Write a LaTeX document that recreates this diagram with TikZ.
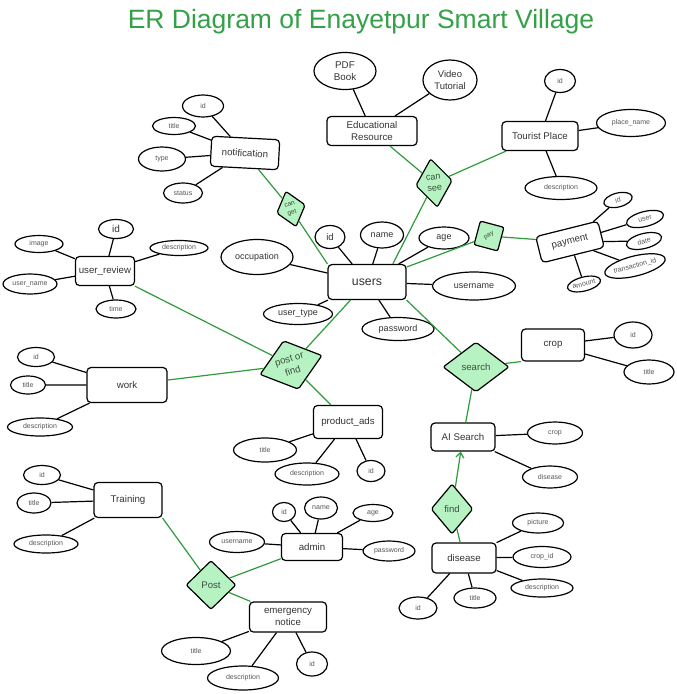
\documentclass[tikz,border=0pt]{standalone}
\usepackage{fontspec}
\setmainfont{Liberation Sans}
\usetikzlibrary{arrows.meta,calc,positioning,shapes.geometric}
\definecolor{linegreen}{HTML}{2E9B3A}
\definecolor{relfill}{HTML}{B6F2C2}
\definecolor{titlegreen}{HTML}{34A148}
\definecolor{txtgray}{HTML}{333333}
\definecolor{attrgray}{HTML}{555555}
\definecolor{reltext}{HTML}{3B4F3E}

\begin{document}
\begin{tikzpicture}[>=Latex,x=1pt,y=-1pt,
  attr/.style 2 args={draw,ellipse,line width=1.2pt,minimum width=#1,minimum height=#2,inner sep=0pt,text=attrgray,font=\fontsize{7}{8}\selectfont},
  bigattr/.style 2 args={attr={#1}{#2},text=txtgray,font=\fontsize{9}{10.5}\selectfont},
  relbox/.style 2 args={draw,diamond,fill=relfill,line width=1.2pt,rounded corners=2pt,minimum width=#1,minimum height=#2,inner sep=0pt,align=center,text=reltext,font=\fontsize{9.6}{11.5}\selectfont}]
  \tikzstyle{entity}=[draw,rounded corners=4pt,line width=1.2pt,align=center,inner sep=1pt,text=txtgray,font=\fontsize{9.7}{11.5}\selectfont]
  \tikzstyle{attrline}=[line width=1.2pt]
  \tikzstyle{relline}=[draw=linegreen,line width=1.2pt]
  \useasboundingbox (0,0) rectangle (677,694);

  \node[text=titlegreen,font=\fontsize{26.5}{30}\selectfont] (title) at (361,22) {ER Diagram of Enayetpur Smart Village};

  \node[entity,minimum width=78,minimum height=35,font=\fontsize{12.3}{14}\selectfont] (users) at (367,282) {users};
  \node[entity,minimum width=68,minimum height=30,rotate=-3] (notif) at (245,153) {notification};
  \node[entity,minimum width=90,minimum height=29] (eduRes) at (372,131) {Educational\\Resource};
  \node[entity,minimum width=76,minimum height=29] (tourist) at (540,136) {Tourist Place};
  \node[entity,minimum width=59,minimum height=29] (review) at (105,271) {user\_review};
  \node[entity,minimum width=64,minimum height=27,rotate=14] (payment) at (570,242) {payment};
  \node[entity,minimum width=80,minimum height=35] (work) at (127,385) {work};
  \node[entity,minimum width=69,minimum height=33] (productAds) at (348,422) {product\_ads};
  \node[entity,minimum width=63,minimum height=32] (crop) at (553,345) {crop};
  \node[entity,minimum width=64,minimum height=28] (aiSearch) at (463,437) {AI Search};
  \node[entity,minimum width=64,minimum height=30] (disease) at (464,558) {disease};
  \node[entity,minimum width=68,minimum height=35] (training) at (128,500) {Training};
  \node[entity,minimum width=61,minimum height=27] (admin) at (312,547) {admin};
  \node[entity,minimum width=77,minimum height=30] (emergency) at (288,617) {emergency\\notice};

  \node[relbox={30}{37},rotate=16,font=\fontsize{6.5}{8.2}\selectfont] (canGet) at (291,209) {can\\get};
  \node[relbox={37}{49},rotate=8,font=\fontsize{9}{11}\selectfont] (canSee) at (434,183) {can\\see};
  \node[relbox={35}{35},rotate=30,font=\fontsize{6.5}{7}\selectfont] (pay) at (489,236) {pay};
  \node[relbox={65}{51},rotate=17,aspect=1.3,font=\fontsize{9.6}{12.5}\selectfont] (postFind) at (291,365) {post or\\find};
  \node[relbox={66}{50}] (search) at (476,367) {search};
  \node[relbox={42}{50}] (find) at (452,509) {find};
  \node[relbox={50}{49}] (post) at (211,585) {Post};

  \node[bigattr={30}{23},font=\fontsize{9.5}{11}\selectfont] (uid) at ($(users)+(-37,-45)$) {id};
  \node[bigattr={43}{26}] (uname) at ($(users)+(15,-47)$) {name};
  \node[bigattr={50}{22}] (uage) at ($(users)+(77,-44)$) {age};
  \node[bigattr={83}{28}] (uuser) at ($(users)+(107,4)$) {username};
  \node[bigattr={72}{23}] (upass) at ($(users)+(31,47)$) {password};
  \node[bigattr={72}{35}] (uocc) at ($(users)+(-110,-25)$) {occupation};
  \node[bigattr={69}{21}] (utype) at ($(users)+(-69,32)$) {user\_type};

  \node[attr={41}{22}] (nid) at ($(notif)+(-42,-47)$) {id};
  \node[attr={43}{17}] (ntitle) at ($(notif)+(-71,-27)$) {title};
  \node[attr={47}{24}] (ntype) at ($(notif)+(-83,6)$) {type};
  \node[attr={39}{20}] (nstatus) at ($(notif)+(-62,40)$) {status};

  \node[bigattr={62}{37},font=\fontsize{9.8}{11.5}\selectfont,align=center] (pdf) at ($(eduRes)+(-27,-60)$) {PDF\\Book};
  \node[bigattr={54}{40},font=\fontsize{9.5}{11.5}\selectfont,align=center] (video) at ($(eduRes)+(78,-51)$) {Video\\Tutorial};

  \node[attr={31}{23}] (tid) at ($(tourist)+(20,-55)$) {id};
  \node[attr={69}{27}] (tplace) at ($(tourist)+(91,-13)$) {place\_name};
  \node[attr={72}{23}] (tdesc) at ($(tourist)+(21,52)$) {description};

  \node[bigattr={35}{19},font=\fontsize{10}{11}\selectfont] (rid) at ($(review)+(11,-42)$) {id};
  \node[attr={48}{17}] (rimage) at ($(review)+(-66,-27)$) {image};
  \node[attr={54}{20}] (rname) at ($(review)+(-75,13)$) {user\_name};
  \node[attr={40}{18}] (rtime) at ($(review)+(11,38)$) {time};
  \node[attr={58}{15}] (rdesc) at ($(review)+(74,-23)$) {description};

  \node[attr={29}{14},rotate=14] (pid) at ($(payment)+(48,-42)$) {id};
  \node[attr={38}{15},rotate=14] (puser) at ($(payment)+(75,-23)$) {user};
  \node[attr={36}{15},rotate=14] (pdate) at ($(payment)+(74,-1)$) {date};
  \node[attr={62}{20},rotate=14] (ptrans) at ($(payment)+(65,24)$) {transaction\_id};
  \node[attr={34}{14},rotate=14] (pamount) at ($(payment)+(14,42)$) {amount};

  \node[attr={37}{19}] (wid) at ($(work)+(-91,-28)$) {id};
  \node[attr={35}{18}] (wtitle) at ($(work)+(-99,0)$) {title};
  \node[attr={65}{18}] (wdesc) at ($(work)+(-87,42)$) {description};

  \node[attr={63}{24}] (atitle) at ($(productAds)+(-83,28)$) {title};
  \node[attr={64}{22}] (adesc) at ($(productAds)+(-41,52)$) {description};
  \node[attr={28}{21}] (aid) at ($(productAds)+(23,49)$) {id};

  \node[attr={38}{26}] (cid) at ($(crop)+(80,-10)$) {id};
  \node[attr={50}{24}] (ctitle) at ($(crop)+(96,27)$) {title};

  \node[attr={55}{22}] (scrop) at ($(aiSearch)+(92,-4)$) {crop};
  \node[attr={55}{22}] (sdis) at ($(aiSearch)+(87,40)$) {disease};

  \node[attr={51}{20}] (dpic) at ($(disease)+(74,-35)$) {picture};
  \node[attr={58}{21}] (dcrop) at ($(disease)+(78,-1)$) {crop\_id};
  \node[attr={62}{18}] (ddesc) at ($(disease)+(78,30)$) {description};
  \node[attr={42}{20}] (dtitle) at ($(disease)+(11,40)$) {title};
  \node[attr={38}{22}] (did) at ($(disease)+(-46,50)$) {id};

  \node[attr={37}{19}] (trid) at ($(training)+(-86,-25)$) {id};
  \node[attr={34}{20}] (trtitle) at ($(training)+(-94,3)$) {title};
  \node[attr={64}{18}] (trdesc) at ($(training)+(-82,44)$) {description};

  \node[attr={23}{19}] (adid) at ($(admin)+(-28,-35)$) {id};
  \node[attr={33}{22}] (adname) at ($(admin)+(9,-39)$) {name};
  \node[attr={40}{17}] (adage) at ($(admin)+(61,-34)$) {age};
  \node[attr={55}{21}] (aduser) at ($(admin)+(-75,-5)$) {username};
  \node[attr={52}{20}] (adpass) at ($(admin)+(77,4)$) {password};

  \node[attr={69}{27}] (etitle) at ($(emergency)+(-92,34)$) {title};
  \node[attr={71}{24}] (edesc) at ($(emergency)+(-45,61)$) {description};
  \node[attr={31}{24}] (eid) at ($(emergency)+(24,47)$) {id};

  \draw[attrline] (users) -- (uid) (users) -- (uname) (users) -- (uage) (users) -- (uuser) (users) -- (upass) (users) -- (uocc) (users) -- (utype);
  \draw[attrline] (notif) -- (nid) (notif) -- (ntitle) (notif) -- (ntype) (notif) -- (nstatus);
  \draw[attrline] (eduRes) -- (pdf) (eduRes) -- (video);
  \draw[attrline] (tourist) -- (tid) (tourist) -- (tplace) (tourist) -- (tdesc);
  \draw[attrline] (review) -- (rid) (review) -- (rimage) (review) -- (rname) (review) -- (rtime) (review) -- (rdesc);
  \draw[attrline] (payment) -- (pid) (payment) -- (puser) (payment) -- (pdate) (payment) -- (ptrans) (payment) -- (pamount);
  \draw[attrline] (work) -- (wid) (work) -- (wtitle) (work) -- (wdesc);
  \draw[attrline] (productAds) -- (atitle) (productAds) -- (adesc) (productAds) -- (aid);
  \draw[attrline] (crop) -- (cid) (crop) -- (ctitle);
  \draw[attrline] (aiSearch) -- (scrop) (aiSearch) -- (sdis);
  \draw[attrline] (disease) -- (dpic) (disease) -- (dcrop) (disease) -- (ddesc) (disease) -- (dtitle) (disease) -- (did);
  \draw[attrline] (training) -- (trid) (training) -- (trtitle) (training) -- (trdesc);
  \draw[attrline] (admin) -- (adid) (admin) -- (adname) (admin) -- (adage) (admin) -- (aduser) (admin) -- (adpass);
  \draw[attrline] (emergency) -- (etitle) (emergency) -- (edesc) (emergency) -- (eid);

  \draw[relline] (notif) -- (canGet);
  \draw[relline] (canGet) -- (users.north west);
  \draw[relline] (eduRes) -- (canSee);
  \draw[relline] (canSee) -- (tourist);
  \draw[relline] (canSee) -- (users.35);
  \draw[relline] (users) -- (pay);
  \draw[relline] (pay) -- (payment);
  \draw[relline] (review) -- (postFind);
  \draw[relline] (work) -- (postFind);
  \draw[relline] (postFind) -- (users);
  \draw[relline] (postFind) -- (productAds);
  \draw[relline] (users.south east) -- (search);
  \draw[relline] (search) -- (crop.south west);
  \draw[relline] (search) -- (aiSearch);
  \draw[relline,-{Straight Barb[length=5pt,width=8pt]}] (find) -- (aiSearch);
  \draw[relline] (find) -- (disease);
  \draw[relline] (training.south east) -- (post);
  \draw[relline] (post) -- (admin);
  \draw[relline] (post) -- (emergency);
\end{tikzpicture}
\end{document}
